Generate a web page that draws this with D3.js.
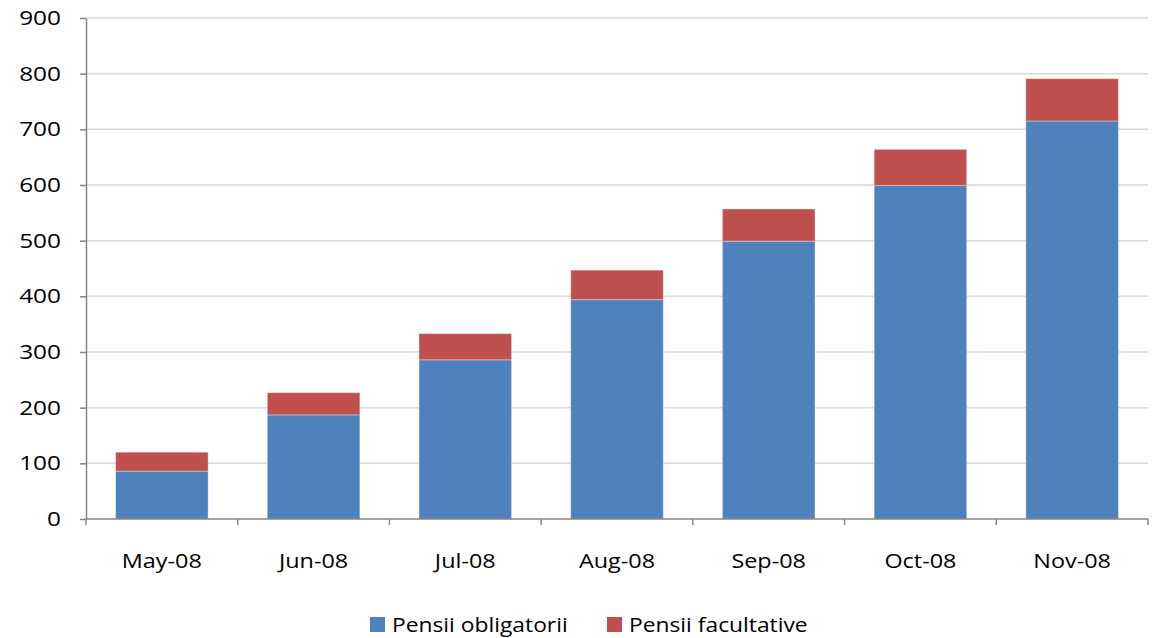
<!DOCTYPE html>
<html>
<head>
<meta charset="utf-8">
<script src="https://cdn.jsdelivr.net/npm/d3@7"></script>
<style>
  html, body { margin: 0; padding: 0; background: #fff; }
  svg { display: block; font-family: "Open Sans", sans-serif; }
</style>
</head>
<body>
<div id="chart"></div>
<script>
// Monthly values
const months = ['May-08', 'Jun-08', 'Jul-08', 'Aug-08', 'Sep-08', 'Oct-08', 'Nov-08'];
const obligatorii = [86, 187, 286, 394, 499, 599, 715];
const facultative = [34, 40, 47, 53, 58, 65, 76];
const yTicks = [0, 100, 200, 300, 400, 500, 600, 700, 800, 900];

const seriesNames = ['Pensii obligatorii', 'Pensii facultative'];
const seriesColors = ['#4F81BD', '#C0504D'];

const W = 1153, H = 638;
const M = { top: 18, right: 5, bottom: 119, left: 86 };
const iw = W - M.left - M.right;
const ih = H - M.top - M.bottom;

const rows = months.map((m, i) => ({ month: m, s0: obligatorii[i], s1: facultative[i] }));
const stack = d3.stack().keys(['s0', 's1'])(rows);

const svg = d3.select('#chart').append('svg')
  .attr('width', W).attr('height', H);

const g = svg.append('g').attr('transform', `translate(${M.left},${M.top})`);

const x = d3.scaleBand().domain(months).range([0, iw]).paddingInner(0.39).paddingOuter(0.195);
const y = d3.scaleLinear().domain([0, 900]).range([ih, 0]);

// the reference font is wider than Open Sans, so stretch the glyphs a bit
function widen(sel, k) {
  sel.each(function () {
    const len = this.getComputedTextLength();
    d3.select(this).attr('textLength', len * k).attr('lengthAdjust', 'spacingAndGlyphs');
  });
}

// grid
g.append('g')
  .selectAll('line')
  .data(yTicks.filter(t => t > 0))
  .join('line')
  .attr('x1', 0).attr('x2', iw)
  .attr('y1', d => y(d)).attr('y2', d => y(d))
  .attr('stroke', '#d9d9d9').attr('stroke-width', 1.5);

// bars
g.selectAll('.layer')
  .data(stack)
  .join('g')
  .attr('class', 'layer')
  .attr('fill', (d, i) => seriesColors[i])
  .selectAll('rect')
  .data(d => d)
  .join('rect')
  .attr('x', d => x(d.data.month))
  .attr('y', d => y(d[1]))
  .attr('width', x.bandwidth())
  .attr('height', d => y(d[0]) - y(d[1]))
  .attr('stroke', 'rgba(255,255,255,0.35)')
  .attr('stroke-width', 1);

// y axis
const yAxis = g.append('g')
  .call(d3.axisLeft(y).tickValues(yTicks).tickSize(6).tickPadding(19).tickSizeOuter(0));
yAxis.select('.domain').attr('stroke', '#868686').attr('stroke-width', 1.5);
yAxis.selectAll('.tick line').attr('stroke', '#868686').attr('stroke-width', 1.5);
yAxis.selectAll('.tick text')
  .attr('font-size', '20px').attr('fill', '#000')
  .attr('font-family', '"Open Sans", sans-serif')
  .call(widen, 1.22);

// x axis: line plus ticks at category boundaries
const xAxis = g.append('g').attr('transform', `translate(0,${ih})`);
xAxis.append('line')
  .attr('x1', 0).attr('x2', iw)
  .attr('stroke', '#868686').attr('stroke-width', 1.5);
xAxis.selectAll('.bt')
  .data(d3.range(months.length + 1))
  .join('line')
  .attr('class', 'bt')
  .attr('x1', i => i * iw / months.length).attr('x2', i => i * iw / months.length)
  .attr('y1', 0).attr('y2', 6)
  .attr('stroke', '#868686').attr('stroke-width', 1.5);
xAxis.selectAll('.lbl')
  .data(months)
  .join('text')
  .attr('class', 'lbl')
  .attr('x', d => x(d) + x.bandwidth() / 2)
  .attr('y', 49)
  .attr('text-anchor', 'middle')
  .attr('font-size', '20px')
  .text(d => d)
  .call(widen, 1.17);

// legend
const legend = svg.append('g').attr('transform', 'translate(370,632)');
const legendX = [0, 237];
seriesNames.forEach((name, i) => {
  const item = legend.append('g').attr('transform', `translate(${legendX[i]},0)`);
  item.append('rect')
    .attr('x', 0).attr('y', -15).attr('width', 15).attr('height', 15)
    .attr('fill', seriesColors[i]);
  item.append('text')
    .attr('x', 22).attr('y', 0)
    .attr('font-size', '20px')
    .text(name)
    .call(widen, 1.14);
});
</script>
</body>
</html>
